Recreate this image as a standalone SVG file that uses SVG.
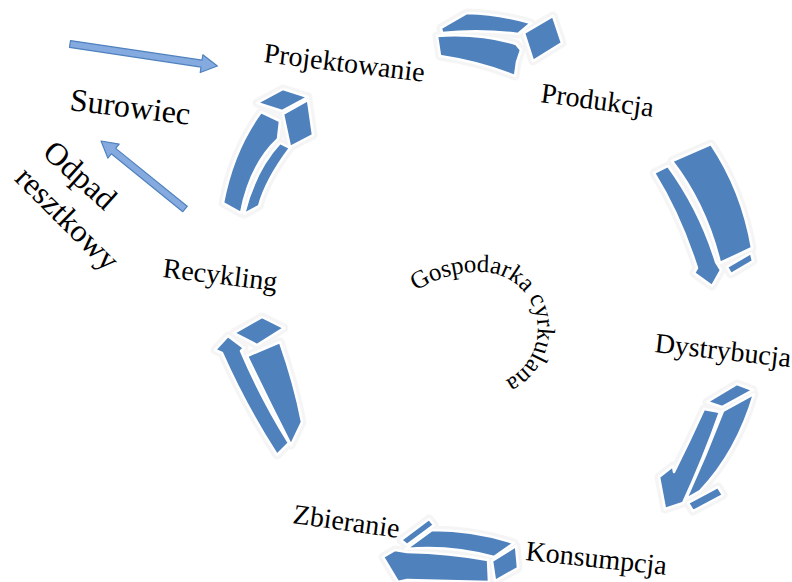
<svg xmlns="http://www.w3.org/2000/svg" width="792" height="582" viewBox="0 0 792 582">
<style>
.lbl{font-family:"Liberation Serif","Times New Roman",serif;font-size:28px;fill:#000}
.big{font-size:32px}
.glow{fill:none;stroke:#f5f5f5;stroke-width:9;stroke-linejoin:round}
.blk{fill:#4F81BD;stroke:#fff;stroke-width:2.5;stroke-linejoin:round}
.flat{fill:#84AADF;stroke:#4F81BD;stroke-width:1.2;stroke-linejoin:round}
</style>
<defs>
<g id="a1"><path d="M441,28 L467,13 Q500,14 531,23 L518,34 Q480,29 442,33 Z"/><path d="M437,36 Q480,33 516,44 L521,50 L517,62 L515,76 Q480,62 440,56 Z"/><path d="M524,33 L553,16 L562,43 L533,61 Z"/></g>
<g id="a2"><path d="M672,161 L711,144 Q742,190 752,248 L720,263 Q706,205 672,161 Z"/><path d="M654,173 L668,166 Q700,210 716,262 L721,270 L712,286 L694,273 L697,268 Q680,215 654,173 Z"/><path d="M727,267 L751,253 L753,261 L731,274 Z"/></g>
<g id="a3"><path d="M707,402 L737,384 L753,390 L722,407 Z"/><path d="M704,409 L720,412 Q703,460 683,503 L665,509 L659,477 L673,466 L674,472 Q690,440 704,409 Z"/><path d="M723,411 L754,394 Q737,452 700,491 L686,499 Q706,455 723,411 Z"/><path d="M688,503 L718,487 L723,495 L693,511 Z"/></g>
<g id="a4"><path d="M406,549 L432,530 Q475,530 514,543 L494,557 Q450,545 406,549 Z"/><path d="M401,540 L429,519 L434,525 L407,545 Z"/><path d="M383,557 L395,550 L407,552 Q450,553 488,560 L489,582 L407,580 L398,582 Z"/><path d="M492,561 L516,546 L518,568 L495,581 Z"/></g>
<g id="a5"><path d="M234,333 L262,317 L284,328 L257,345 Z"/><path d="M228,336 L244,348 L241,351 Q262,400 289,443 L277,455 Q245,405 222,353 L215,350 Z"/><path d="M247,356 L280,342 Q295,385 302,422 L291,445 Q268,400 247,356 Z"/></g>
<g id="a6"><path d="M257,103 L283,89 L308,97 L282,111 Z"/><path d="M283,114 L308,100 L313,135 L290,147 Z"/><path d="M261,112 L280,121 L278,139 Q250,165 241,213 L223,203 Q233,150 261,112 Z"/><path d="M280,143 L290,148 Q266,180 259,206 L244,214 Q255,170 280,143 Z"/></g>
<path id="arc" d="M416,291 A114,114 0 0 1 482,272 A57,57 0 0 1 504,381"/>
</defs>
<g id="connectors">
<g class="glow"><use href="#a1"/><use href="#a2"/><use href="#a3"/><use href="#a4"/><use href="#a5"/><use href="#a6"/></g>
<g class="blk"><use href="#a1"/><use href="#a2"/><use href="#a3"/><use href="#a4"/><use href="#a5"/><use href="#a6"/></g>
<path class="flat" transform="translate(70,44) rotate(8.5)" d="M0,-3.5 L133,-3.5 L133,-9 L149,0 L133,9 L133,3.5 L0,3.5 Z"/>
<path class="flat" transform="translate(185,209) rotate(-141)" d="M0,-3.5 L92,-3.5 L92,-9 L108,0 L92,9 L92,3.5 L0,3.5 Z"/>
</g>
<g id="projektowanie"><text class="lbl" transform="translate(263,62) rotate(7)">Projektowanie</text></g>
<g id="produkcja"><text class="lbl" transform="translate(540,102) rotate(7.6)">Produkcja</text></g>
<g id="dystrybucja"><text class="lbl" transform="translate(654,352) rotate(6.4)">Dystrybucja</text></g>
<g id="konsumpcja"><text class="lbl" transform="translate(525,560) rotate(6)">Konsumpcja</text></g>
<g id="zbieranie"><text class="lbl" transform="translate(292,523) rotate(8)">Zbieranie</text></g>
<g id="recykling"><text class="lbl" transform="translate(162,277) rotate(7)">Recykling</text></g>
<g id="surowiec"><text class="lbl big" transform="translate(69,110) rotate(7)">Surowiec</text></g>
<g id="odpad"><text class="lbl big" text-anchor="middle" transform="translate(73,183) rotate(42)">Odpad</text><text class="lbl big" text-anchor="middle" transform="translate(60,226) rotate(45)">resztkowy</text></g>
<g id="gospodarka"><text class="lbl" style="font-size:25px"><textPath href="#arc" textLength="222" lengthAdjust="spacing">Gospodarka cyrkulana</textPath></text></g>
</svg>
